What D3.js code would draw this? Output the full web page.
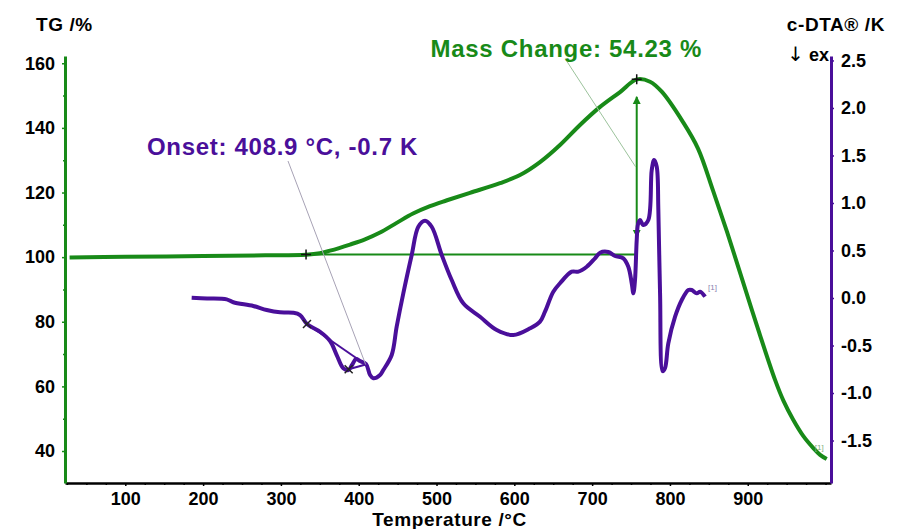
<!DOCTYPE html>
<html>
<head>
<meta charset="utf-8">
<script src="https://cdn.jsdelivr.net/npm/d3@7"></script>
<style>
  html, body { margin: 0; padding: 0; background: #fff; }
  svg { display: block; }
  text { font-family: "Liberation Sans", Arial, sans-serif; font-weight: bold; }
</style>
</head>
<body>
<script>
// Thermogravimetry (TG) and c-DTA signals versus temperature
const tgTemp = [28.4, 100, 200, 280, 332.3, 350, 363.1, 388.8, 408.1, 427.4, 448.8, 469.8, 491.6, 513.5,
  543, 581.6, 607.3, 633, 658.7, 684.4, 710.2, 735.9, 757.3, 774.4, 789.5, 816.8, 836.1, 855.4, 873.4,
  890.1, 911.8, 935.1, 945.8, 958.6, 971.5, 984.3, 993.0, 1001.5];
const tgMass = [99.9, 100.1, 100.35, 100.55, 100.75, 101.2, 102.0, 103.9, 105.5, 107.6, 110.6, 113.5, 115.8, 117.6,
  119.9, 122.9, 125.4, 129.4, 134.7, 140.9, 146.5, 151.1, 155.0, 154.3, 151.2, 141.8, 133.6, 120.6, 107.8,
  95.2, 78.8, 62.0, 55.6, 49.6, 44.6, 40.9, 38.8, 37.5];

const dtaTemp = [185.3, 205, 230.3, 238.8, 264.5, 281.7, 298.8, 315.9, 324.6, 333.5, 350.3, 363.2, 371.7, 380.2,
  386.6, 391.4, 396.5, 401.7, 409.4, 414.6, 418.8, 427.4, 431.6, 442.4, 448.8, 457.3, 468.1, 476.6, 485.2,
  493.8, 506.7, 519.5, 534.4, 555.9, 577.4, 598.7, 620.2, 633.0, 639.4, 650.1, 658.7, 673.8, 682.3, 693.1,
  703.7, 710.2, 720.8, 729.4, 740.1, 746.5, 750.9, 753.0, 755.1, 757.3, 759.0, 761.6, 765.8, 772.2, 776.6,
  779.6, 783.0, 785.1, 787.3, 790.7, 793.7, 797.9, 806.6, 815.2, 823.7, 828.0, 834.5, 838.8, 845.2];
const dtaSignal = [0.003, -0.005, -0.014, -0.045, -0.084, -0.126, -0.151, -0.155, -0.179, -0.274, -0.355, -0.453, -0.60, -0.74,
  -0.758, -0.705, -0.642, -0.663, -0.695, -0.81, -0.845, -0.81, -0.758, -0.60, -0.302, 0.049, 0.453, 0.75, 0.814,
  0.75, 0.453, 0.189, -0.056, -0.197, -0.337, -0.389, -0.319, -0.249, -0.144, 0.066, 0.155, 0.277, 0.277, 0.329,
  0.418, 0.477, 0.484, 0.442, 0.418, 0.329, 0.155, 0.049, 0.189, 0.61, 0.779, 0.821, 0.768, 0.821, 1.347,
  1.453, 1.382, 0.926, 0.049, -0.77, -0.737, -0.477, -0.197, -0.021, 0.084, 0.084, 0.049, 0.066, 0.014];

// Tick labels
const xTicks = [100, 200, 300, 400, 500, 600, 700, 800, 900];
const tgTicks = [40, 60, 80, 100, 120, 140, 160];
const dtaTicks = [-1.5, -1.0, -0.5, 0.0, 0.5, 1.0, 1.5, 2.0, 2.5];

// Evaluations
const massStep = { t0: 332.3, t1: 757.3, m0: 100.8, change: 54.23 };
const onset = { t: 408.9, k: -0.7 };
const onsetBase = { t: 333.5, k: -0.274 };
const onsetTangent = { t: 387.1, k: -0.749 };

const W = 899, H = 529;
const plot = { left: 65, right: 831, top: 56, bottom: 483 };
const green = "#188a18", purple = "#4a0f9a";

const svg = d3.select("body").append("svg").attr("width", W).attr("height", H);

const x = d3.scaleLinear().domain([22.5, 1007]).range([plot.left, plot.right]);
const yTG = d3.scaleLinear().domain([30.1, 162.25]).range([plot.bottom, plot.top]);
const yDTA = d3.scaleLinear().domain([-1.947, 2.547]).range([plot.bottom, plot.top]);

function styleAxis(g, color, width) {
  g.select(".domain").attr("stroke", color).attr("stroke-width", width);
  g.selectAll(".tick line").attr("stroke", color).attr("stroke-width", 1.5);
  g.selectAll(".tick text").attr("fill", "#000").style("font-size", "18px");
}

// Bottom axis
const xMinor = d3.range(25, 1001, 25).filter(d => d % 100 !== 0 || d === 1000);
svg.append("g").attr("transform", `translate(0,${plot.bottom})`)
  .call(d3.axisBottom(x).tickValues(xMinor).tickSize(2).tickFormat(""))
  .call(g => { g.select(".domain").remove(); g.selectAll(".tick line").attr("stroke", "#000").attr("stroke-width", 1.5); });
svg.append("g").attr("transform", `translate(0,${plot.bottom})`)
  .call(d3.axisBottom(x).tickValues(xTicks).tickSizeInner(3).tickSizeOuter(0).tickPadding(6).tickFormat(d3.format("d")))
  .call(g => styleAxis(g, "#000", 2.5));

// Left TG axis
svg.append("g").attr("transform", `translate(${plot.left},0)`)
  .call(d3.axisLeft(yTG).tickValues(d3.range(50, 160, 20)).tickSize(2).tickFormat(""))
  .call(g => { g.select(".domain").remove(); g.selectAll(".tick line").attr("stroke", green).attr("stroke-width", 1.5); });
svg.append("g").attr("transform", `translate(${plot.left},0)`)
  .call(d3.axisLeft(yTG).tickValues(tgTicks).tickSizeInner(3).tickSizeOuter(0).tickPadding(7).tickFormat(d3.format("d")))
  .call(g => styleAxis(g, green, 3));

// Right DTA axis
svg.append("g").attr("transform", `translate(${plot.right},0)`)
  .call(d3.axisRight(yDTA).tickValues(d3.range(-1.75, 2.5, 0.5)).tickSize(2).tickFormat(""))
  .call(g => { g.select(".domain").remove(); g.selectAll(".tick line").attr("stroke", purple).attr("stroke-width", 1.5); });
svg.append("g").attr("transform", `translate(${plot.right},0)`)
  .call(d3.axisRight(yDTA).tickValues(dtaTicks).tickSizeInner(3).tickSizeOuter(0).tickPadding(7).tickFormat(d => d.toFixed(1)))
  .call(g => styleAxis(g, purple, 3));

// Axis titles
svg.append("text").attr("x", 36).attr("y", 30.5).style("font-size", "19px").style("letter-spacing", "0.6px").text("TG /%");
svg.append("text").attr("x", 885).attr("y", 30.5).attr("text-anchor", "end").style("font-size", "19px").style("letter-spacing", "0.6px").text("c-DTA® /K");
const exLabel = svg.append("text").attr("x", 829).attr("y", 61).attr("text-anchor", "end").style("font-size", "18px");
exLabel.append("tspan").style("font-family", "'DejaVu Sans', sans-serif").style("font-weight", "normal").style("font-size", "20px").text("↓");
exLabel.append("tspan").text(" ex");
svg.append("text").attr("x", 449.5).attr("y", 526).attr("text-anchor", "middle").style("font-size", "19px").style("letter-spacing", "0.6px").text("Temperature /°C");

// Curves
const tgData = tgTemp.map((t, i) => [t, tgMass[i]]);
const dtaData = dtaTemp.map((t, i) => [t, dtaSignal[i]]);

svg.append("path").datum(tgData)
  .attr("fill", "none").attr("stroke", green).attr("stroke-width", 4).attr("stroke-linejoin", "round")
  .attr("d", d3.line().x(d => x(d[0])).y(d => yTG(d[1])).curve(d3.curveCatmullRom.alpha(0.5)));

// Mass change step: baseline and double arrow
const m1 = massStep.m0 + massStep.change;
svg.append("line")
  .attr("x1", x(massStep.t0)).attr("x2", x(massStep.t1))
  .attr("y1", yTG(massStep.m0)).attr("y2", yTG(massStep.m0))
  .attr("stroke", green).attr("stroke-width", 2);

const defs = svg.append("defs");
defs.append("marker").attr("id", "arrowG").attr("viewBox", "0 0 10 10").attr("refX", 9).attr("refY", 5)
  .attr("markerWidth", 8).attr("markerHeight", 10).attr("orient", "auto-start-reverse").attr("markerUnits", "userSpaceOnUse")
  .append("path").attr("d", "M0,0 L10,5 L0,10 z").attr("fill", green);

const inset = massStep.change * 0.1;
svg.append("line")
  .attr("x1", x(massStep.t1)).attr("x2", x(massStep.t1))
  .attr("y1", yTG(massStep.m0 + inset)).attr("y2", yTG(m1 - inset))
  .attr("stroke", green).attr("stroke-width", 2)
  .attr("marker-start", "url(#arrowG)").attr("marker-end", "url(#arrowG)");

// Onset construction lines
svg.append("line")
  .attr("x1", x(onsetBase.t)).attr("y1", yDTA(onsetBase.k))
  .attr("x2", x(onset.t)).attr("y2", yDTA(onset.k))
  .attr("stroke", purple).attr("stroke-width", 2);
svg.append("line")
  .attr("x1", x(onsetTangent.t)).attr("y1", yDTA(onsetTangent.k))
  .attr("x2", x(onset.t)).attr("y2", yDTA(onset.k))
  .attr("stroke", purple).attr("stroke-width", 2);

svg.append("path").datum(dtaData)
  .attr("fill", "none").attr("stroke", purple).attr("stroke-width", 4).attr("stroke-linejoin", "round")
  .attr("d", d3.line().x(d => x(d[0])).y(d => yDTA(d[1])).curve(d3.curveCatmullRom.alpha(0.5)));

// Evaluation markers
function plus(cx, cy) {
  svg.append("path").attr("d", `M${cx - 5},${cy}H${cx + 5}M${cx},${cy - 5}V${cy + 5}`)
    .attr("stroke", "#111").attr("stroke-width", 1.5);
}
function cross(cx, cy) {
  svg.append("path").attr("d", `M${cx - 4},${cy - 4}L${cx + 4},${cy + 4}M${cx - 4},${cy + 4}L${cx + 4},${cy - 4}`)
    .attr("stroke", "#222").attr("stroke-width", 1.5);
}
plus(x(massStep.t0), yTG(massStep.m0));
plus(x(massStep.t1), yTG(m1));
cross(x(onsetBase.t), yDTA(onsetBase.k));
cross(x(onsetTangent.t), yDTA(onsetTangent.k));

// Leader lines and result labels
svg.append("line").attr("x1", 566).attr("y1", 60).attr("x2", x(massStep.t1) - 1).attr("y2", yTG(massStep.m0 + massStep.change / 2))
  .attr("stroke", "#9cc39c").attr("stroke-width", 1);
svg.append("line").attr("x1", 288).attr("y1", 161).attr("x2", x(onset.t)).attr("y2", yDTA(onset.k))
  .attr("stroke", "#a7a2b5").attr("stroke-width", 1);

svg.append("text").attr("x", 702).attr("y", 56.5).attr("text-anchor", "end")
  .attr("fill", green).style("font-size", "24px").style("letter-spacing", "0.7px")
  .text(`Mass Change: ${massStep.change.toFixed(2)} %`);
svg.append("text").attr("x", 147).attr("y", 155)
  .attr("fill", purple).style("font-size", "24px").style("letter-spacing", "0.7px")
  .text(`Onset: ${onset.t.toFixed(1)} °C, ${onset.k.toFixed(1)} K`);

// Curve end tags
svg.append("text").attr("x", x(dtaTemp[dtaTemp.length - 1]) + 3).attr("y", yDTA(dtaSignal[dtaSignal.length - 1]) - 7)
  .attr("fill", "#8a7fb0").style("font-size", "8px").style("font-weight", "normal").text("[1]");
svg.append("text").attr("x", x(tgTemp[tgTemp.length - 1]) - 12).attr("y", yTG(tgMass[tgMass.length - 1]) - 9)
  .attr("fill", "#7fb07f").style("font-size", "8px").style("font-weight", "normal").text("[1]");
</script>
</body>
</html>
